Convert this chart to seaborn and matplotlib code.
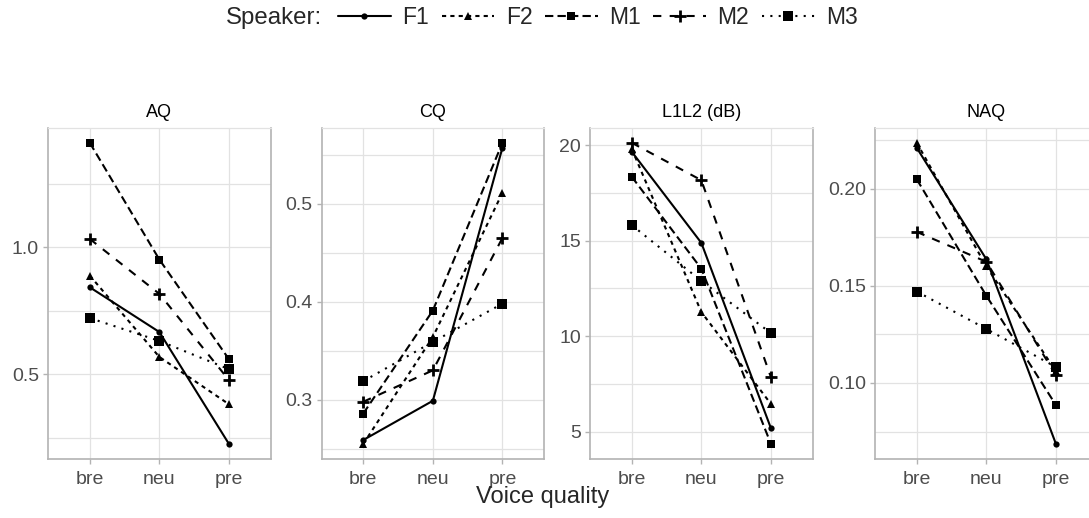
import numpy as np
import pandas as pd
import matplotlib
matplotlib.use("Agg")
import matplotlib.pyplot as plt
from matplotlib.lines import Line2D
from matplotlib.ticker import MultipleLocator, AutoMinorLocator, FormatStrFormatter
import seaborn as sns

# voice quality categories and speakers
quality = ["bre", "neu", "pre"]
speakers = ["F1", "F2", "M1", "M2", "M3"]

# values (bre, neu, pre)
aq = {"F1": [0.843, 0.667, 0.227],
      "F2": [0.889, 0.569, 0.383],
      "M1": [1.411, 0.952, 0.560],
      "M2": [1.033, 0.817, 0.478],
      "M3": [0.722, 0.632, 0.521]}
cq = {"F1": [0.259, 0.299, 0.557],
      "F2": [0.255, 0.364, 0.511],
      "M1": [0.286, 0.391, 0.562],
      "M2": [0.298, 0.330, 0.465],
      "M3": [0.319, 0.359, 0.398]}
l1l2 = {"F1": [19.65, 14.88, 5.18],
        "F2": [19.80, 11.26, 6.45],
        "M1": [18.34, 13.53, 4.36],
        "M2": [20.12, 18.16, 7.85],
        "M3": [15.81, 12.89, 10.16]}
naq = {"F1": [0.2211, 0.1637, 0.0686],
       "F2": [0.2237, 0.1600, 0.1060],
       "M1": [0.2049, 0.1449, 0.0886],
       "M2": [0.1778, 0.1624, 0.1040],
       "M3": [0.1471, 0.1278, 0.1082]}

panels = [("AQ", aq, 0.5, "%.1f"),
          ("CQ", cq, 0.1, "%.1f"),
          ("L1L2 (dB)", l1l2, 5, "%d"),
          ("NAQ", naq, 0.05, "%.2f")]

# line / marker style per speaker
styles = {"F1": dict(linestyle="-", marker="o", markersize=4.5, mew=0),
          "F2": dict(linestyle=(0, (2, 2)), marker="^", markersize=6, mew=0),
          "M1": dict(linestyle=(0, (4, 2)), marker="s", markersize=5.5, mew=0),
          "M2": dict(linestyle=(0, (4, 4)), marker="+", markersize=9, mew=2),
          "M3": dict(linestyle=(0, (1, 3)), marker="s", markersize=7.5, mew=0)}

sns.set_theme(style="whitegrid")
plt.rcParams["font.family"] = ["Liberation Sans", "DejaVu Sans"]

fig = plt.figure(figsize=(10.89, 5.18), dpi=100)
W, H = 1089, 518
lefts = [48, 321.5, 590, 875]
width = 222.7
bottom, top = 459, 127.7

border = "#b3b3b3"
grid = "#e2e2e2"

for (title, vals, step, fmt), lx in zip(panels, lefts):
    ax = fig.add_axes([lx / W, (H - bottom) / H, width / W, (bottom - top) / H])
    rows = []
    for sp in speakers:
        for q, v in zip(quality, vals[sp]):
            rows.append({"quality": q, "value": v, "speaker": sp})
    df = pd.DataFrame(rows)
    for sp in speakers:
        st = styles[sp]
        sns.lineplot(data=df[df.speaker == sp], x="quality", y="value", ax=ax,
                     color="black", lw=1.5, linestyle=st["linestyle"],
                     marker=st["marker"], markersize=st["markersize"],
                     markeredgewidth=st["mew"], markeredgecolor="black",
                     markerfacecolor="black", legend=False)
    lo, hi = df.value.min(), df.value.max()
    pad = (hi - lo) * 0.05
    ax.set_ylim(lo - pad, hi + pad)
    ax.set_xlim(-0.6, 2.6)
    ax.yaxis.set_major_locator(MultipleLocator(step))
    ax.yaxis.set_minor_locator(AutoMinorLocator(2))
    ax.yaxis.set_major_formatter(FormatStrFormatter(fmt))
    ax.grid(True, which="major", color=grid, lw=0.9)
    ax.grid(True, which="minor", axis="y", color=grid, lw=0.9)
    ax.set_axisbelow(True)
    ax.set_xlabel("")
    ax.set_ylabel("")
    ax.set_title(title, fontsize=13, pad=8, color="black")
    ax.tick_params(axis="both", which="major", labelsize=14, labelcolor="#4d4d4d",
                   color=border, length=3.5, width=1, pad=3, left=True, bottom=True)
    ax.tick_params(axis="x", which="major", pad=5)
    ax.tick_params(axis="y", which="minor", length=0)
    for s in ["left", "bottom", "right"]:
        ax.spines[s].set_color(border)
        ax.spines[s].set_linewidth(1.2)
        ax.spines[s].set_visible(True)
    ax.spines["top"].set_color(grid)
    ax.spines["top"].set_linewidth(0.9)

fig.text(543 / W, 1 - 497 / H, "Voice quality", fontsize=17, ha="center", va="center")

handles = [Line2D([], [], color="black", lw=1.5, linestyle=styles[sp]["linestyle"],
                  marker=styles[sp]["marker"], markersize=styles[sp]["markersize"],
                  markeredgewidth=styles[sp]["mew"], markeredgecolor="black",
                  markerfacecolor="black") for sp in speakers]
fig.text(226 / W, 1 - 18 / H, "Speaker:", fontsize=17.3, ha="left", va="center")
fig.legend(handles, speakers, loc="center left", bbox_to_anchor=(338 / W, 1 - 18 / H),
           ncol=5, frameon=False, fontsize=16.5, handlelength=2.3, columnspacing=0.55,
           handletextpad=0.5, borderpad=0, borderaxespad=0)

fig.savefig("out.png", dpi=100)
